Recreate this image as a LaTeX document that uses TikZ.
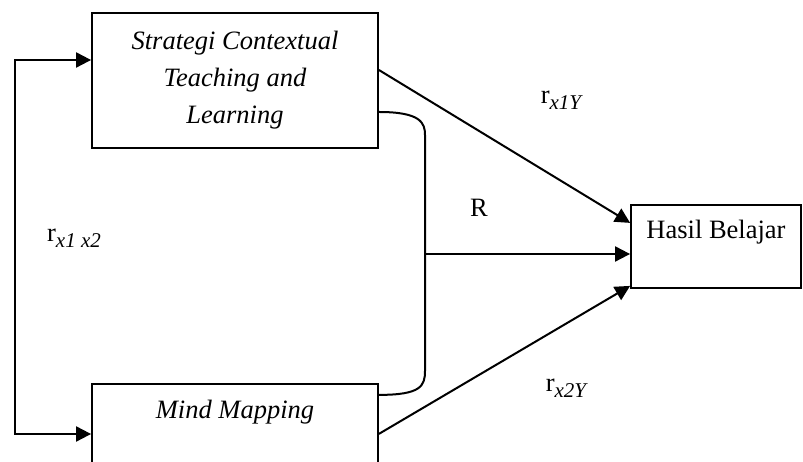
\documentclass[tikz,border=0pt]{standalone}
\usepackage{fontspec}
\setmainfont{Liberation Serif}
\usetikzlibrary{arrows.meta, positioning, calc}
\newcommand{\figfont}{\fontsize{26.5}{37}\selectfont}
\newcommand{\rsub}[1]{\raisebox{-6pt}{\fontsize{21}{21}\selectfont\itshape #1}}

\begin{document}
\begin{tikzpicture}[x=1pt, y=1pt,
  every node/.style={font=\figfont},
  box/.style={draw, line width=1.8pt, minimum width=286pt, inner sep=0pt, align=center},
  arr/.style={line width=2pt, -{Triangle[length=15pt, width=15pt]}}]
  \useasboundingbox (0,0) rectangle (803,462);
  \clip (0,0) rectangle (803,462);
  % variabel bebas
  \node[box, minimum height=135pt, font=\figfont\itshape] (cs) at (235,381.5) {Strategi Contextual\\ Teaching and\\ Learning};
  \node[box, anchor=north, text height=35pt, text depth=60pt, font=\figfont\itshape] (mm) at (235,79) {Mind Mapping};
  % variabel terikat
  \node[box, anchor=north, minimum width=170pt, text height=34pt, text depth=49pt] (hb) at (716,258) {Hasil Belajar};
  % korelasi x1 x2
  \coordinate (lt) at (15,402);
  \coordinate (lb) at (15,28);
  \draw[line width=2pt, {Triangle[length=15pt, width=15pt]}-{Triangle[length=15pt, width=15pt]}] (cs.west |- lt) -- (lt) -- (lb) -- (mm.west |- lb);
  % r x1Y, r x2Y
  \draw[arr] ([yshift=10.5pt]cs.east) -- ([yshift=23.5pt]hb.west);
  \draw[arr] ([yshift=-2.5pt]mm.east) -- ([yshift=-39.5pt]hb.west);
  % R
  \coordinate (rj) at (425,208);
  \draw[line width=2pt] ([yshift=-31.5pt]cs.east) .. controls +(42,0) and +(0,12) .. (425,327) -- (rj) -- (425,91) .. controls +(0,-15) and +(42,0) .. ([yshift=36.5pt]mm.east);
  \draw[arr] (rj) -- (rj -| hb.west);
  % label
  \node (r1y) at (561,362) {r\rsub{x1Y}};
  \node (rr) at (479,254) {R};
  \node (r2y) at (566,74) {r\rsub{x2Y}};
  \node (r12) at (74,224) {r\rsub{x1 x2}};
\end{tikzpicture}
\end{document}
